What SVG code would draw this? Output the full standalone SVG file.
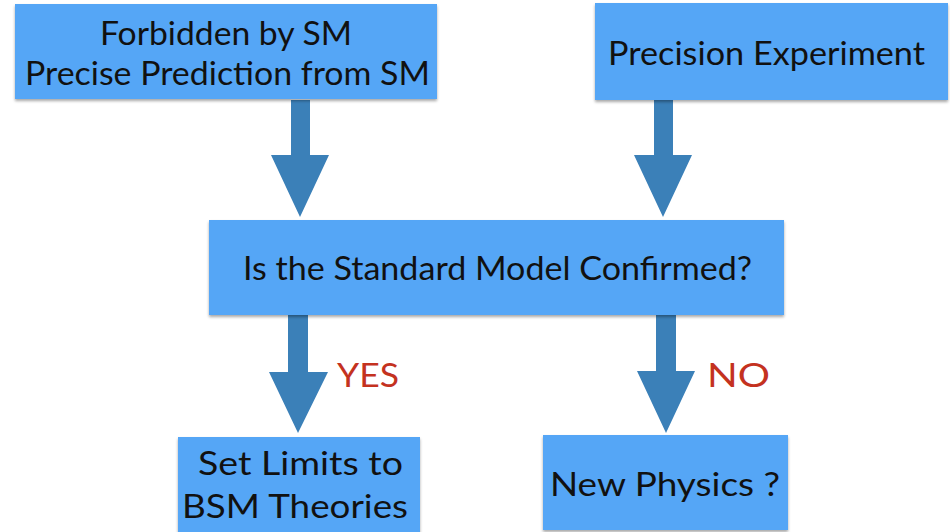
<svg xmlns="http://www.w3.org/2000/svg" width="950" height="532" viewBox="0 0 950 532">
  <defs>
    <filter id="shadow" x="-5%" y="-10%" width="110%" height="125%">
      <feGaussianBlur in="SourceAlpha" stdDeviation="1.5"/>
      <feOffset dx="0" dy="2" result="b"/>
      <feComponentTransfer><feFuncA type="linear" slope="0.35"/></feComponentTransfer>
      <feMerge><feMergeNode/><feMergeNode in="SourceGraphic"/></feMerge>
    </filter>
  </defs>
  <style>
    .box { fill: #54a6f6; filter: url(#shadow); }
    .lbl { font-family: Lato, "Open Sans", "Liberation Sans", sans-serif; font-size: 32px; fill: #111; }
    .ans { font-family: Lato, "Open Sans", "Liberation Sans", sans-serif; font-size: 32px; fill: #c4321f; }
    .arrow { fill: #3b80b8; }
  </style>
  <rect width="950" height="532" fill="#ffffff"/>

  <!-- connectors: block arrows -->
  <g id="connectors">
    <polygon class="arrow" points="291,100 310,100 310,155 329,155 300,217 271,155 291,155"/>
    <polygon class="arrow" points="654,100 673,100 673,155 692,155 663,217 634,155 654,155"/>
    <polygon class="arrow" points="288,315 308,315 308,372 328,372 298,433 269,372 288,372"/>
    <polygon class="arrow" points="656,315 676,315 676,371 695,371 666,433 637,371 656,371"/>
    <text class="ans" x="337" y="387" textLength="62" lengthAdjust="spacingAndGlyphs">YES</text>
    <text class="ans" x="707" y="387" textLength="63" lengthAdjust="spacingAndGlyphs">NO</text>
  </g>

  <g id="node-forbidden">
    <rect class="box" x="15" y="4" width="422" height="95"/>
    <text class="lbl" x="100" y="45" textLength="252" lengthAdjust="spacingAndGlyphs">Forbidden by SM</text>
    <text class="lbl" x="25" y="85" textLength="405" lengthAdjust="spacingAndGlyphs">Precise Prediction from SM</text>
  </g>

  <g id="node-precision">
    <rect class="box" x="595" y="3" width="353" height="97"/>
    <text class="lbl" x="608" y="65" textLength="317" lengthAdjust="spacingAndGlyphs">Precision Experiment</text>
  </g>

  <g id="node-confirmed">
    <rect class="box" x="209" y="220" width="575" height="95"/>
    <text class="lbl" x="243" y="280" textLength="509" lengthAdjust="spacingAndGlyphs">Is the Standard Model Confirmed?</text>
  </g>

  <g id="node-limits">
    <rect class="box" x="178" y="437" width="242" height="100"/>
    <text class="lbl" x="198" y="475" textLength="205" lengthAdjust="spacingAndGlyphs">Set Limits to</text>
    <text class="lbl" x="182" y="518" textLength="226" lengthAdjust="spacingAndGlyphs">BSM Theories</text>
  </g>

  <g id="node-newphysics">
    <rect class="box" x="543" y="435" width="245" height="95"/>
    <text class="lbl" x="550" y="496" textLength="230" lengthAdjust="spacingAndGlyphs">New Physics ?</text>
  </g>
</svg>
